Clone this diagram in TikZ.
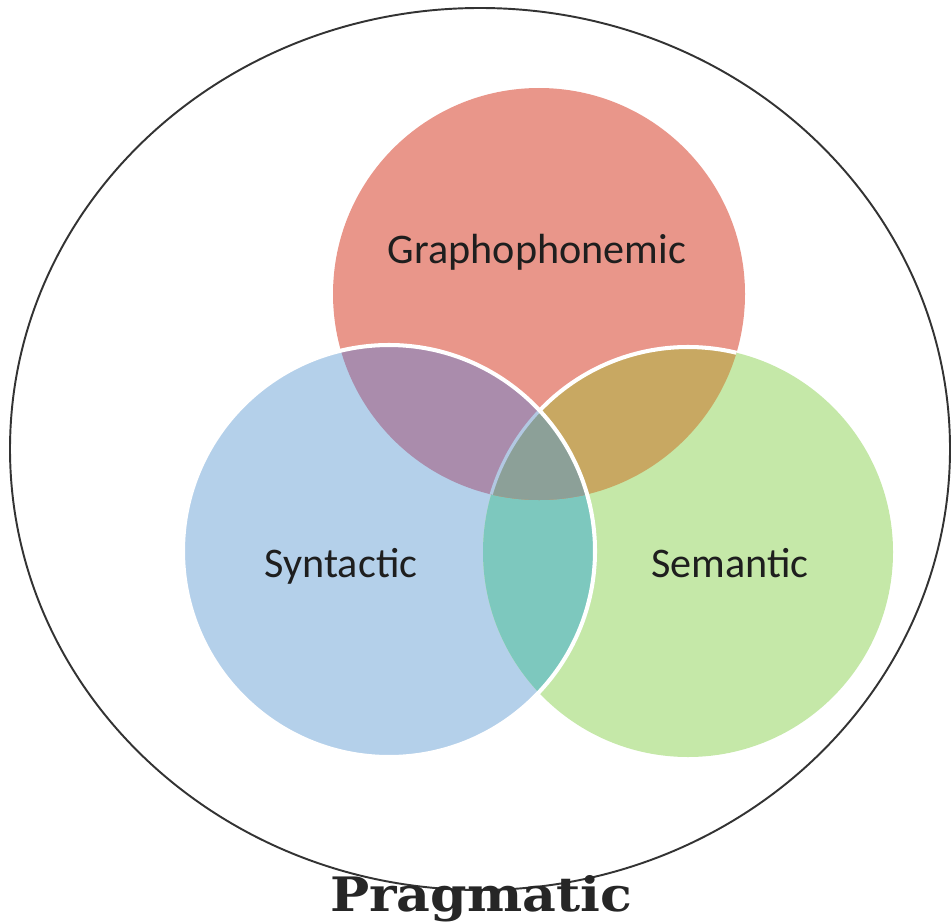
\documentclass[tikz,border=0pt]{standalone}
\usepackage{fontspec}
\setmainfont{Carlito}
\newfontfamily\pragfont{DejaVu Serif}
\definecolor{gphcol}{HTML}{E9968A}
\definecolor{syncol}{HTML}{B4D0EA}
\definecolor{semcol}{HTML}{C5E8A8}
\definecolor{gphsyncol}{HTML}{AA8CAC}
\definecolor{gphsemcol}{HTML}{C8A862}
\definecolor{synsemcol}{HTML}{7DC8BE}
\definecolor{allcol}{HTML}{8CA098}
\definecolor{seamcol}{HTML}{B2C8E2}
\definecolor{labelcol}{HTML}{1E1E1E}
\tikzset{
  cuelabel/.style={anchor=base,text=labelcol,font=\fontsize{24}{28}\selectfont},
  seam/.style={white,line width=2.3pt}
}
\begin{document}
\begin{tikzpicture}[x=0.02cm,y=-0.02cm,line width=0.8pt]
  \useasboundingbox (0,0) rectangle (952,922);
  \coordinate (prag) at (480,449);
  \coordinate (gph) at (539,294);
  \coordinate (syn) at (389,551);
  \coordinate (sem) at (688,552);
  % pragmatic ring
  \draw[black!80,line width=1.1pt] (prag) ellipse [x radius=470,y radius=441];
  % the three cueing systems
  \fill[gphcol] (gph) circle [radius=206];
  \fill[syncol] (syn) circle [radius=206];
  \fill[semcol] (sem) circle [radius=205];
  \begin{scope}
    \clip (syn) circle [radius=206];
    \fill[synsemcol] (sem) circle [radius=205];
  \end{scope}
  \begin{scope}
    \clip (gph) circle [radius=206];
    \fill[gphsyncol] (syn) circle [radius=206];
    \fill[gphsemcol] (sem) circle [radius=205];
    \begin{scope}
      \clip (syn) circle [radius=206];
      \fill[allcol] (sem) circle [radius=205];
      \draw[seamcol,line width=1.8pt] (sem) circle [radius=205];
    \end{scope}
    \begin{scope}[even odd rule]
      \clip (0,0) rectangle (952,922) (syn) circle [radius=206];
      \draw[seam] (sem) circle [radius=205];
    \end{scope}
  \end{scope}
  \draw[seam] (syn) circle [radius=206];
  % labels
  \node[cuelabel] (gphtext) at (537,263) {Graphophonemic};
  \node[cuelabel] (syntext) at (341,577) {Syntactic};
  \node[cuelabel] (semtext) at (730,577) {Semantic};
  \node[anchor=base,xscale=1.1,font=\pragfont\bfseries\fontsize{27}{30}\selectfont,text=black!85] (pragtext) at (481,911) {Pragmatic};
\end{tikzpicture}
\end{document}
